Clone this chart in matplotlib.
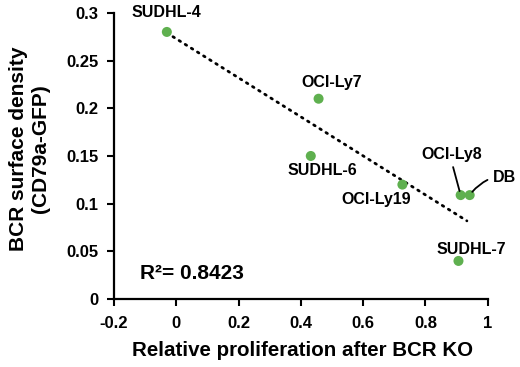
import matplotlib
matplotlib.use("Agg")
import matplotlib.pyplot as plt

cell_lines = ["SUDHL-4", "OCI-Ly7", "SUDHL-6", "OCI-Ly19", "OCI-Ly8", "DB", "SUDHL-7"]
proliferation = [-0.03, 0.457, 0.432, 0.726, 0.913, 0.942, 0.906]
bcr_density = [0.28, 0.21, 0.15, 0.12, 0.109, 0.109, 0.04]
trend_x = [-0.03, 0.933]
trend_y = [0.279, 0.082]
x_ticks = [-0.2, 0, 0.2, 0.4, 0.6, 0.8, 1]
x_tick_labels = ["-0.2", "0", "0.2", "0.4", "0.6", "0.8", "1"]
y_ticks = [0, 0.05, 0.1, 0.15, 0.2, 0.25, 0.3]
y_tick_labels = ["0", "0.05", "0.1", "0.15", "0.2", "0.25", "0.3"]
r2_text = "R²= 0.8423"

label_offsets = {
    "SUDHL-4": (0, 14),
    "OCI-Ly7": (9.6, 11.5),
    "SUDHL-6": (8, -10.3),
    "OCI-Ly19": (-19, -11),
    "OCI-Ly8": (-6.5, 29.5),
    "DB": (25, 12.6),
    "SUDHL-7": (8.9, 8.4),
}
leader = {"OCI-Ly8": (0.5, 0.0), "DB": (0.0, 0.5)}

regular = ["Liberation Sans", "DejaVu Sans"]

fig = plt.figure(figsize=(5.2, 3.67), dpi=100)
ax = fig.add_axes([0.219, 0.185, 0.719, 0.780])

ax.plot(trend_x, trend_y, color="black", lw=2.0, linestyle=(0, (0.6, 2.0)),
        dash_capstyle="round", zorder=2)
ax.scatter(proliferation, bcr_density, s=52, color="#5fb04f", zorder=3,
           edgecolors="none")

for name, xv, yv in zip(cell_lines, proliferation, bcr_density):
    dx, dy = label_offsets[name]
    kw = {}
    if name in leader:
        kw["arrowprops"] = dict(arrowstyle="-", color="black", lw=1.3,
                                shrinkA=2, shrinkB=3, relpos=leader[name],
                                connectionstyle="arc3,rad=0.15" if name == "DB" else "arc3,rad=0")
    ax.annotate(name, (xv, yv), xytext=(dx, dy), textcoords="offset points",
                ha="center", va="center", fontsize=11.5, fontweight="bold",
                family=regular, annotation_clip=False, **kw)

ax.text(0.07, 0.09, r2_text, transform=ax.transAxes, fontsize=15,
        fontweight="bold", family=regular, ha="left", va="center")

ax.set_xlim(-0.2, 1)
ax.set_ylim(0, 0.3)
ax.set_xticks(x_ticks)
ax.set_xticklabels(x_tick_labels)
ax.set_yticks(y_ticks)
ax.set_yticklabels(y_tick_labels)
for lab in ax.get_xticklabels() + ax.get_yticklabels():
    lab.set_fontweight("bold")
    lab.set_family(regular)
    lab.set_fontsize(12)

for s in ["top", "right"]:
    ax.spines[s].set_visible(False)
for s in ["left", "bottom"]:
    ax.spines[s].set_linewidth(1.6)
ax.tick_params(axis="both", length=5, width=1.5, direction="out")
ax.tick_params(axis="x", pad=7)
ax.tick_params(axis="y", pad=6)

fig.text(0.581, 1 - 350 / 367, "Relative proliferation after BCR KO",
         ha="center", va="center", fontsize=14.8, fontweight="bold", family=regular)
fig.text(30 / 520, 1 - 149 / 367, "BCR surface density\n(CD79a-GFP)",
         ha="center", va="center", rotation=90, fontsize=15, fontweight="bold",
         family=regular, linespacing=1.2)

fig.savefig("out.png", dpi=100)
